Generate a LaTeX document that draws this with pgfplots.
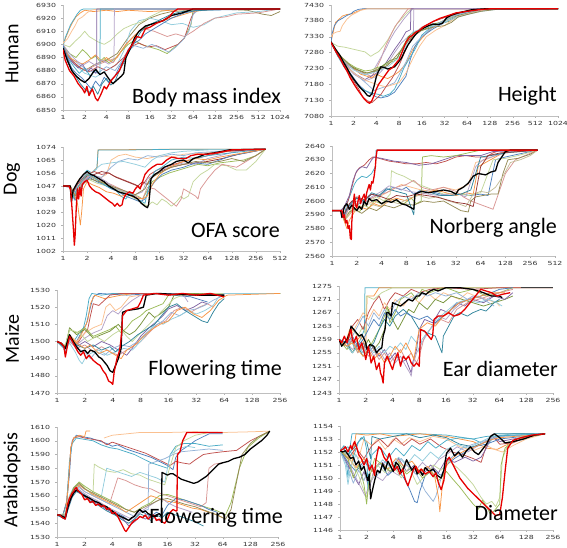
\documentclass[border=0pt]{standalone}
\usepackage{fontspec}
\setmainfont{Carlito}
\newfontfamily\tickfont{DejaVu Sans}
\usepackage{pgfplots}
\pgfplotsset{compat=1.18}
\definecolor{cB}{RGB}{79,129,189}
\definecolor{cR}{RGB}{192,80,77}
\definecolor{cG}{RGB}{155,187,89}
\definecolor{cP}{RGB}{128,100,162}
\definecolor{cA}{RGB}{75,172,198}
\definecolor{cO}{RGB}{247,150,70}
\definecolor{lB}{RGB}{149,179,215}
\definecolor{lR}{RGB}{217,150,148}
\definecolor{lG}{RGB}{195,214,155}
\definecolor{lP}{RGB}{179,162,199}
\definecolor{lA}{RGB}{147,205,221}
\definecolor{lO}{RGB}{250,192,144}
\definecolor{cL}{RGB}{148,138,84}
\definecolor{dG}{RGB}{119,147,60}
\definecolor{dR}{RGB}{149,55,53}
\definecolor{dA}{RGB}{49,133,156}
\definecolor{lL}{RGB}{196,189,151}
\definecolor{red1}{RGB}{230,0,0}
\pgfplotsset{panel/.style={
  scale only axis, anchor=south west,
  axis x line*=bottom, axis y line*=left,
  axis line style={draw=black!25},
  tick style={draw=black!30},
  major tick length=2pt, tick align=outside,
  ticklabel style={font=\tickfont\fontsize{5.6}{6}\selectfont, text=black!80, xscale=1.4},
  /pgf/number format/assume math mode=true,
  yticklabel style={/pgf/number format/1000 sep={}},
  no markers,
  every axis plot/.append style={line width=0.75pt, line join=round},
  clip=true},
  bk/.style={black, line width=1.3pt},
  rd/.style={red1, line width=1.3pt}}
\begin{document}
\begin{tikzpicture}
\useasboundingbox (0,0) rectangle (567pt,548pt);
% ---------------- Panel 1: Human BMI
\begin{axis}[panel, at={(63pt,438pt)}, width=217pt, height=105pt,
  xmin=0, xmax=10, ymin=6850, ymax=6930, ytick={6850,6860,...,6930},
  xtick={0,...,10}, xticklabels={1,2,4,8,16,32,64,128,256,512,1024}]
\addplot[cL] coordinates {(0,6897)(0.5,6885)(1,6880)(1.5,6885)(2,6888)(2.5,6893)(3,6905)(3.5,6915)(4,6920)(4.5,6923)(5,6925)(6,6926)(7,6927)(8.5,6926)(9.2,6923)(9.6,6922)(10,6925)};
\addplot[lA] coordinates {(0,6899)(0.5,6885)(1.0,6878)(1.5,6875)(2.0,6880)(2.5,6885)(2.8,6895)(3.1,6910)(3.5,6918)(4.0,6920)(4.5,6918)(5.0,6915)(5.5,6916)(6.0,6913)(6.5,6915)(7.0,6920)(7.5,6922)(8,6924)(9,6925)(10,6927)};
\addplot[lR] coordinates {(0,6898)(0.5,6886)(1.0,6880)(1.5,6884)(2.0,6887)(2.5,6890)(2.9,6900)(3.3,6907)(3.7,6912)(4.2,6910)(4.8,6906)(5.2,6908)(5.6,6906)(6.0,6910)(6.5,6916)(7,6920)(7.5,6921)(8,6923)(9,6924)(10,6927)};
\addplot[lG] coordinates {(0,6900)(0.3,6898)(0.6,6903)(0.8,6906)(1.0,6910)(1.2,6906)(1.4,6904)(1.6,6902)(1.9,6900)(2.2,6903)(2.5,6908)(2.8,6912)(3.2,6915)(3.6,6917)(4.0,6921)(4.5,6925)(5,6927)(10,6927)};
\addplot[cG] coordinates {(0,6899)(0.3,6893)(0.6,6890)(0.9,6896)(1.1,6893)(1.3,6889)(1.5,6891)(1.7,6887)(1.9,6890)(2.1,6886)(2.4,6889)(2.7,6895)(3.0,6900)(3.3,6903)(3.6,6900)(4.0,6898)(4.4,6896)(4.8,6893)(5.0,6896)(5.3,6900)(5.6,6905)(5.9,6915)(6.0,6927)(10,6927)};
\addplot[cR] coordinates {(0,6898)(0.4,6888)(0.8,6882)(1.2,6879)(1.6,6883)(2.0,6880)(2.4,6884)(2.8,6890)(3.1,6898)(3.5,6901)(3.9,6898)(4.3,6899)(4.7,6896)(5.0,6898)(5.3,6900)(5.6,6905)(5.9,6920)(6.1,6926)(7,6927)(10,6927)};
\addplot[lB] coordinates {(0,6898)(0.4,6889)(0.8,6884)(1.2,6880)(1.6,6878)(2.0,6883)(2.4,6880)(2.7,6887)(3.0,6895)(3.3,6899)(3.7,6897)(4.1,6900)(4.5,6897)(4.9,6894)(5.2,6898)(5.5,6903)(5.8,6910)(6.0,6923)(6.3,6927)(10,6927)};
\addplot[cO] coordinates {(0,6898)(0.3,6890)(0.6,6887)(0.9,6885)(1.2,6888)(1.5,6892)(1.8,6887)(2.0,6890)(2.3,6886)(2.6,6893)(2.9,6900)(3.2,6905)(3.5,6910)(4,6915)(5,6920)(6,6925)(7,6927)(10,6927)};
\addplot[cO] coordinates {(0,6900)(0.15,6906)(0.3,6912)(0.45,6917)(0.6,6921)(0.8,6924)(1,6926)(1.4,6925)(2,6926)(2.5,6925)(3,6926)(4,6925)(5,6926)(6,6927)(10,6927)};
\addplot[cA] coordinates {(0,6898)(0.1,6905)(0.25,6911)(0.35,6915)(0.5,6919)(0.65,6923)(0.8,6926)(0.95,6927)(10,6927)};
\addplot[lO] coordinates {(0,6901)(0.2,6904)(0.4,6910)(0.55,6914)(0.7,6919)(0.9,6921)(1.1,6924)(1.3,6926)(1.6,6927)(10,6927)};
\addplot[cP] coordinates {(0,6899)(0.2,6891)(0.45,6886)(0.7,6882)(0.9,6885)(1.1,6879)(1.3,6882)(1.5,6878)(1.55,6879)(1.56,6927)(10,6927)};
\addplot[cA] coordinates {(0,6897)(0.25,6889)(0.5,6883)(0.75,6878)(1.0,6882)(1.25,6876)(1.5,6880)(1.7,6877)(1.72,6927)(10,6927)};
\addplot[lP] coordinates {(0,6900)(0.3,6893)(0.6,6888)(0.9,6884)(1.2,6887)(1.5,6884)(1.8,6888)(2.1,6885)(2.35,6887)(2.37,6927)(10,6927)};
\addplot[cB] coordinates {(0,6899)(0.2,6890)(0.4,6882)(0.6,6878)(0.9,6874)(1.1,6870)(1.3,6866)(1.5,6872)(1.7,6868)(1.9,6875)(2.1,6871)(2.4,6876)(2.6,6883)(2.8,6888)(3.0,6896)(3.2,6900)(3.5,6903)(3.8,6908)(4.2,6912)(4.6,6916)(5.0,6920)(5.6,6924)(6.2,6926)(10,6927)};
\addplot[dA] coordinates {(0,6898)(0.2,6887)(0.5,6878)(0.8,6870)(1.0,6866)(1.2,6863)(1.4,6868)(1.6,6862)(1.8,6870)(2.0,6874)(2.2,6869)(2.4,6872)(2.6,6880)(2.8,6886)(3.0,6893)(3.3,6902)(3.6,6910)(4.0,6915)(4.5,6919)(5.0,6923)(5.5,6925)(6.5,6926)(8,6927)(10,6927)};
\addplot[bk] coordinates {(0,6897)(0.2,6888)(0.4,6880)(0.6,6876)(0.8,6873)(1.0,6871)(1.2,6874)(1.4,6879)(1.5,6881)(1.7,6877)(1.9,6879)(2.1,6874)(2.3,6870)(2.5,6873)(2.7,6876)(2.8,6878)(2.9,6890)(3.1,6897)(3.3,6905)(3.5,6910)(3.8,6914)(4.2,6916)(4.6,6918)(5.0,6922)(5.5,6924)(6.0,6927)(10,6927)};
\addplot[rd] coordinates {(0,6896)(0.1,6888)(0.3,6880)(0.5,6876)(0.7,6870)(0.9,6866)(1.0,6863)(1.1,6868)(1.2,6861)(1.35,6866)(1.5,6859)(1.6,6857)(1.75,6862)(1.9,6868)(2.0,6866)(2.2,6872)(2.4,6876)(2.6,6880)(2.8,6888)(3.0,6895)(3.2,6900)(3.4,6906)(3.6,6905)(3.8,6912)(4.0,6913)(4.3,6916)(4.6,6918)(4.9,6921)(5.1,6925)(5.3,6927)(10,6927)};
\end{axis}
% ---------------- Panel 2: Human Height
\begin{axis}[panel, at={(331pt,432pt)}, width=227pt, height=111pt,
  xmin=0, xmax=10, ymin=7080, ymax=7430, ytick={7080,7130,...,7430},
  xtick={0,...,10}, xticklabels={1,2,4,8,16,32,64,128,256,512,1024}]
\addplot[cO] coordinates {(0,7314)(0.1,7345)(0.2,7375)(0.35,7385)(0.5,7395)(0.7,7400)(0.9,7402)(1.1,7408)(1.3,7414)(1.5,7418)(10,7418)};
\addplot[cB] coordinates {(0,7312)(0.05,7340)(0.15,7365)(0.3,7380)(0.5,7388)(0.7,7397)(0.9,7403)(1.0,7410)(1.2,7416)(1.4,7418)(10,7418)};
\addplot[lO] coordinates {(0,7330)(0.1,7340)(0.25,7345)(0.4,7347)(0.5,7365)(0.7,7385)(0.9,7398)(1.1,7405)(1.3,7413)(1.6,7418)(10,7418)};
\addplot[lG] coordinates {(0,7312)(0.3,7300)(0.6,7297)(0.9,7292)(1.2,7287)(1.5,7282)(1.75,7268)(1.9,7275)(2.1,7283)(2.3,7300)(2.5,7320)(2.7,7345)(2.9,7370)(3.1,7385)(3.3,7402)(3.5,7415)(3.7,7418)(10,7418)};
\addplot[lR] coordinates {(0,7312)(0.4,7270)(0.8,7240)(1.2,7225)(1.5,7212)(1.8,7205)(2.0,7230)(2.2,7260)(2.4,7300)(2.6,7330)(2.8,7360)(3.0,7380)(3.2,7400)(3.4,7418)(10,7418)};
\addplot[lP] coordinates {(0,7312)(0.4,7265)(0.8,7235)(1.2,7220)(1.5,7210)(1.8,7215)(2.0,7240)(2.2,7265)(2.4,7290)(2.6,7320)(2.8,7345)(3.0,7365)(3.2,7385)(3.5,7410)(3.6,7418)(10,7418)};
\addplot[cP] coordinates {(0,7312)(0.5,7255)(1.0,7215)(1.5,7195)(2.0,7215)(2.4,7245)(2.8,7290)(3.1,7320)(3.3,7345)(3.5,7352)(3.52,7418)(10,7418)};
\addplot[lP] coordinates {(0,7312)(0.5,7250)(1.0,7212)(1.5,7190)(2.0,7205)(2.4,7235)(2.8,7280)(3.1,7310)(3.4,7330)(3.63,7345)(3.65,7418)(10,7418)};
\addplot[cO] coordinates {(0,7312)(0.3,7275)(0.6,7250)(1.0,7230)(1.3,7212)(1.6,7205)(1.8,7200)(2.0,7212)(2.2,7205)(2.5,7198)(2.8,7210)(3.0,7220)(3.3,7245)(3.6,7290)(4.0,7325)(4.4,7355)(4.8,7375)(5.3,7395)(5.8,7408)(6.5,7416)(7,7418)(10,7418)};
\addplot[cG] coordinates {(0,7312)(0.4,7270)(0.8,7245)(1.1,7232)(1.5,7222)(1.8,7225)(2.0,7232)(2.3,7238)(2.6,7248)(2.9,7258)(3.1,7290)(3.3,7315)(3.5,7335)(3.8,7348)(4.1,7352)(4.5,7368)(5.0,7380)(5.5,7395)(6,7403)(6.6,7412)(7.2,7418)(10,7418)};
\addplot[dG] coordinates {(0,7312)(0.4,7268)(0.8,7240)(1.2,7225)(1.6,7215)(2.0,7225)(2.3,7240)(2.6,7255)(2.9,7262)(3.2,7300)(3.4,7330)(3.7,7345)(4.0,7350)(4.3,7360)(4.6,7372)(5.0,7375)(5.3,7380)(5.5,7395)(6.0,7405)(6.5,7413)(7.0,7418)(10,7418)};
\addplot[cB] coordinates {(0,7312)(0.3,7270)(0.6,7235)(0.9,7210)(1.2,7180)(1.5,7160)(1.8,7148)(2.0,7140)(2.2,7137)(2.5,7142)(2.8,7155)(3.0,7175)(3.3,7205)(3.5,7260)(3.7,7300)(4.0,7330)(4.5,7355)(5.0,7375)(5.5,7392)(6.0,7402)(6.6,7412)(7.2,7418)(10,7418)};
\addplot[cA] coordinates {(0,7312)(0.3,7268)(0.6,7232)(0.9,7205)(1.2,7175)(1.5,7160)(1.8,7152)(2.1,7148)(2.3,7142)(2.6,7150)(2.8,7165)(3.0,7195)(3.2,7230)(3.4,7255)(3.7,7290)(4.0,7335)(4.4,7360)(4.9,7378)(5.4,7395)(6,7408)(6.6,7416)(10,7418)};
\addplot[lB] coordinates {(0,7312)(0.4,7262)(0.8,7230)(1.2,7205)(1.6,7180)(1.9,7160)(2.2,7168)(2.5,7175)(2.8,7185)(3.0,7210)(3.3,7250)(3.6,7300)(4.0,7330)(4.5,7362)(5.0,7382)(5.5,7398)(6.2,7410)(7,7418)(10,7418)};
\addplot[lO] coordinates {(0,7312)(0.4,7260)(0.8,7228)(1.2,7205)(1.6,7190)(2.0,7180)(2.4,7172)(2.7,7178)(3.0,7185)(3.3,7215)(3.6,7260)(3.9,7300)(4.2,7330)(4.6,7350)(5.0,7365)(5.5,7392)(6.0,7402)(6.6,7412)(7.2,7418)(10,7418)};
\addplot[cR] coordinates {(0,7312)(0.3,7270)(0.6,7240)(0.9,7200)(1.2,7168)(1.4,7140)(1.6,7128)(1.8,7122)(2.0,7135)(2.2,7148)(2.4,7170)(2.7,7200)(3.0,7240)(3.3,7290)(3.6,7335)(4.0,7360)(4.5,7378)(5.0,7390)(5.5,7402)(6.0,7410)(6.6,7416)(10,7418)};
\addplot[lA] coordinates {(0,7312)(0.5,7260)(1.0,7225)(1.5,7210)(2.0,7220)(2.5,7235)(3.0,7265)(3.3,7300)(3.6,7345)(4.0,7355)(4.5,7365)(5.0,7375)(5.5,7390)(6,7400)(6.6,7410)(7.5,7418)(10,7418)};
\addplot[cL] coordinates {(0,7312)(0.5,7262)(1.0,7230)(1.5,7215)(2.0,7222)(2.5,7240)(3.0,7280)(3.5,7325)(4.0,7350)(4.5,7360)(5.0,7365)(5.3,7375)(5.6,7392)(6.0,7400)(6.6,7410)(7.5,7418)(10,7418)};
\addplot[bk] coordinates {(0,7314)(0.2,7290)(0.4,7270)(0.55,7250)(0.7,7232)(0.85,7212)(1.0,7196)(1.15,7182)(1.3,7168)(1.45,7158)(1.6,7145)(1.7,7142)(1.8,7150)(1.9,7175)(2.0,7205)(2.1,7222)(2.2,7235)(2.35,7233)(2.5,7228)(2.65,7232)(2.8,7235)(2.95,7248)(3.1,7262)(3.25,7285)(3.4,7305)(3.55,7320)(3.7,7335)(3.9,7350)(4.1,7358)(4.3,7365)(4.5,7370)(4.7,7368)(4.9,7372)(5.1,7390)(5.3,7398)(5.6,7405)(5.9,7410)(6.2,7415)(6.8,7418)(10,7418)};
\addplot[rd] coordinates {(0,7312)(0.2,7285)(0.4,7262)(0.55,7240)(0.7,7222)(0.85,7200)(1.0,7182)(1.15,7165)(1.3,7150)(1.45,7135)(1.6,7124)(1.7,7120)(1.8,7128)(1.9,7145)(2.0,7165)(2.1,7180)(2.25,7195)(2.4,7210)(2.55,7225)(2.7,7232)(2.85,7245)(3.0,7258)(3.15,7285)(3.3,7312)(3.45,7328)(3.6,7335)(3.75,7345)(3.9,7350)(4.1,7362)(4.3,7370)(4.5,7378)(4.8,7388)(5.1,7395)(5.5,7405)(6.0,7410)(6.5,7415)(7,7418)(10,7418)};
\end{axis}
% ---------------- Panel 3: Dog OFA
\begin{axis}[panel, at={(63pt,297pt)}, width=217pt, height=104pt,
  xmin=0, xmax=9, ymin=1002, ymax=1074, ytick={1002,1011,...,1074},
  xtick={0,...,9}, xticklabels={1,2,4,8,16,32,64,128,256,512}]
\addplot[cO] coordinates {(0,1047)(0.3,1047)(0.4,1040)(0.5,1045)(0.6,1050)(0.75,1053)(0.9,1056)(1.1,1055)(1.3,1058)(1.42,1060)(1.45,1072)(5,1072.5)(8.4,1072.5)};
\addplot[cA] coordinates {(0,1047)(0.3,1047)(0.45,1042)(0.6,1049)(0.8,1054)(1.0,1058)(1.2,1056)(1.4,1059)(1.46,1072)(3,1072)(5,1072.5)(8.4,1072.5)};
\addplot[lO] coordinates {(0,1047)(0.3,1046)(0.5,1040)(0.7,1050)(1.0,1055)(1.2,1053)(1.5,1052)(1.8,1055)(2.0,1065)(2.3,1068)(2.6,1069)(3.0,1067)(3.5,1066)(4.0,1068)(4.5,1067)(5,1069)(6,1070)(7,1071)(8.4,1072.5)};
\addplot[lB] coordinates {(0,1047)(0.3,1046)(0.45,1038)(0.6,1048)(0.8,1053)(1.0,1056)(1.3,1054)(1.6,1053)(2.0,1060)(2.3,1064)(2.7,1066)(3.1,1065)(3.5,1068)(4,1067)(4.5,1069)(5,1068)(5.5,1070)(6.5,1071)(8.4,1072.5)};
\addplot[lA] coordinates {(0,1047)(0.3,1047)(0.5,1041)(0.7,1047)(1.0,1053)(1.3,1058)(1.6,1062)(2.0,1063)(2.5,1064)(3.0,1062)(3.4,1060)(3.7,1065)(4.0,1068)(4.5,1070)(5,1071)(6,1072)(8.4,1072.5)};
\addplot[cR] coordinates {(0,1047)(0.3,1047)(0.4,1042)(0.6,1048)(0.8,1052)(1.0,1055)(1.3,1057)(1.6,1055)(1.9,1056)(2.1,1054)(2.4,1052)(2.7,1050)(3.0,1048)(3.2,1046)(3.4,1050)(3.6,1055)(3.9,1058)(4.2,1060)(4.6,1062)(5.0,1064)(5.5,1066)(6,1068)(6.8,1071)(8.4,1072.5)};
\addplot[dR] coordinates {(0,1047)(0.3,1047)(0.45,1040)(0.7,1048)(1.0,1054)(1.3,1055)(1.6,1057)(1.9,1056)(2.2,1053)(2.5,1051)(2.8,1049)(3.1,1047)(3.3,1050)(3.5,1048)(3.7,1053)(4.0,1057)(4.5,1060)(5,1062)(5.5,1063)(6,1064)(6.6,1066)(7.3,1069)(8.4,1072.5)};
\addplot[cG] coordinates {(0,1047)(0.3,1047)(0.45,1039)(0.65,1046)(0.85,1052)(1.0,1055)(1.3,1052)(1.6,1050)(1.9,1047)(2.2,1045)(2.5,1043)(2.8,1041)(3.1,1040)(3.3,1038)(3.5,1044)(3.7,1050)(4.0,1053)(4.4,1056)(4.8,1058)(5.2,1060)(5.6,1062)(6.0,1061)(6.5,1063)(7.0,1064)(7.5,1065)(8.0,1068)(8.4,1072.5)};
\addplot[lG] coordinates {(0,1047)(0.3,1047)(0.45,1040)(0.7,1047)(1.0,1052)(1.4,1049)(1.8,1047)(2.2,1045)(2.6,1042)(3.0,1038)(3.3,1035)(3.5,1033)(3.7,1036)(3.9,1034)(4.1,1038)(4.3,1036)(4.5,1033)(4.7,1036)(4.9,1040)(5.0,1038)(5.2,1040)(5.4,1050)(5.7,1055)(6.0,1058)(6.3,1062)(6.8,1061)(7.2,1058)(7.6,1058)(8.0,1064)(8.4,1072.5)};
\addplot[lR] coordinates {(0,1047)(0.3,1047)(0.5,1041)(0.8,1050)(1.1,1054)(1.5,1051)(2.0,1048)(2.5,1044)(3.0,1040)(3.3,1038)(3.5,1046)(3.8,1045)(4.1,1041)(4.4,1037)(4.7,1033)(4.9,1038)(5.0,1045)(5.3,1042)(5.5,1040)(5.6,1038)(5.7,1045)(6.0,1052)(6.3,1058)(6.6,1062)(7.2,1060)(7.6,1064)(8.0,1068)(8.4,1072.5)};
\addplot[lP] coordinates {(0,1047)(0.3,1046)(0.5,1038)(0.7,1046)(0.9,1051)(1.2,1055)(1.5,1053)(1.8,1050)(2.1,1046)(2.4,1044)(2.7,1042)(3.0,1041)(3.3,1043)(3.5,1052)(3.8,1055)(4.2,1059)(4.6,1061)(5,1063)(5.5,1062)(6,1066)(6.5,1068)(7.2,1071)(8.4,1072.5)};
\addplot[cB] coordinates {(0,1047)(0.3,1047)(0.5,1037)(0.7,1044)(0.9,1050)(1.1,1053)(1.4,1050)(1.7,1048)(2.0,1045)(2.3,1043)(2.6,1040)(2.9,1038)(3.2,1036)(3.4,1038)(3.6,1045)(3.8,1050)(4.1,1055)(4.5,1058)(5,1060)(5.5,1063)(6,1062)(6.5,1065)(7,1068)(8.4,1072.5)};
\addplot[cA] coordinates {(0,1047)(0.3,1047)(0.45,1039)(0.6,1046)(0.8,1051)(1.0,1055)(1.3,1053)(1.6,1049)(1.9,1046)(2.2,1044)(2.4,1040)(2.6,1038)(2.8,1042)(3.0,1039)(3.2,1037)(3.4,1035)(3.6,1050)(3.8,1057)(4.1,1060)(4.5,1065)(5,1067)(5.5,1066)(6,1068)(7,1070)(8.4,1072.5)};
\addplot[cO] coordinates {(0,1047)(0.3,1047)(0.45,1042)(0.6,1035)(0.72,1020)(0.78,1030)(0.85,1045)(1.0,1050)(1.2,1048)(1.5,1046)(1.8,1043)(2.1,1042)(2.4,1040)(2.7,1041)(3.0,1039)(3.3,1038)(3.5,1040)(3.7,1048)(4.0,1055)(4.4,1060)(5,1064)(5.5,1066)(6,1065)(6.5,1067)(7.5,1070)(8.4,1072.5)};
\addplot[cL] coordinates {(0,1047)(0.3,1047)(0.5,1040)(0.8,1048)(1.1,1052)(1.5,1050)(2.0,1047)(2.5,1044)(3.0,1041)(3.4,1045)(3.6,1052)(4.0,1056)(4.5,1060)(5,1062)(5.5,1064)(6,1063)(6.5,1064)(7,1066)(7.5,1064)(8.0,1068)(8.4,1072.5)};
\addplot[bk] coordinates {(0,1047)(0.3,1047)(0.35,1036)(0.42,1044)(0.55,1048)(0.7,1052)(0.85,1055)(1.0,1057)(1.15,1055)(1.3,1054)(1.5,1052)(1.7,1050)(1.9,1047)(2.1,1045)(2.3,1043)(2.5,1042)(2.7,1041)(2.9,1040)(3.1,1038)(3.25,1035)(3.4,1033)(3.5,1032)(3.55,1034)(3.6,1042)(3.65,1052)(3.8,1055)(4.0,1057)(4.2,1060)(4.5,1062)(4.7,1064)(5.0,1065)(5.2,1063)(5.4,1066)(5.6,1067)(5.9,1069)(6.3,1070)(6.9,1072)(8.4,1072.5)};
\addplot[rd] coordinates {(0,1047)(0.25,1047)(0.32,1044)(0.38,1030)(0.44,1015)(0.47,1006)(0.5,1012)(0.55,1032)(0.6,1045)(0.65,1038)(0.7,1046)(0.75,1040)(0.8,1048)(0.9,1050)(1.0,1051)(1.1,1047)(1.2,1045)(1.35,1043)(1.5,1042)(1.65,1040)(1.8,1038)(1.95,1036)(2.05,1035)(2.15,1033)(2.25,1035)(2.35,1033)(2.45,1034)(2.5,1038)(2.6,1041)(2.75,1043)(2.9,1042)(3.0,1045)(3.1,1047)(3.2,1045)(3.3,1050)(3.4,1055)(3.55,1058)(3.7,1060)(3.9,1062)(4.1,1062)(4.3,1065)(4.5,1067)(4.8,1066)(5.1,1066)(5.3,1068)(5.6,1069)(6.0,1069)(6.4,1070)(7.0,1072)(8.4,1072.5)};
\end{axis}
% ---------------- Panel 4: Dog Norberg
\begin{axis}[panel, at={(332pt,292pt)}, width=223pt, height=110pt,
  xmin=0, xmax=9, ymin=2560, ymax=2640, ytick={2560,2570,...,2640},
  xtick={0,...,9}, xticklabels={1,2,4,8,16,32,64,128,256,512}]
\addplot[cA] coordinates {(0,2593)(0.35,2593)(0.5,2590)(0.6,2598)(0.75,2605)(0.9,2612)(1.0,2615)(1.2,2618)(1.4,2617)(1.6,2620)(1.75,2625)(1.78,2637)(8.3,2637)};
\addplot[cR] coordinates {(0,2593)(0.35,2593)(0.5,2595)(0.65,2600)(0.8,2610)(0.95,2620)(1.1,2624)(1.3,2626)(1.5,2630)(1.65,2632)(1.9,2631)(2.3,2629)(2.7,2628)(3.0,2627)(3.4,2627)(3.8,2628)(4.2,2627)(4.6,2629)(5.0,2632)(5.4,2633)(5.8,2632)(6.2,2632)(6.5,2635)(6.8,2637)(8.3,2637)};
\addplot[cP] coordinates {(0,2593)(0.35,2593)(0.5,2596)(0.7,2604)(0.85,2615)(1.0,2622)(1.2,2625)(1.4,2624)(1.6,2630)(1.7,2632)(2.0,2631)(2.5,2629)(3.0,2628)(3.5,2626)(4.0,2627)(4.5,2630)(5.0,2633)(5.5,2633)(6,2633)(6.5,2636)(8.3,2637)};
\addplot[cB] coordinates {(0,2593)(0.35,2593)(0.5,2588)(0.65,2594)(0.8,2600)(1.0,2597)(1.3,2600)(1.6,2605)(1.9,2603)(2.2,2608)(2.5,2610)(2.8,2608)(3.0,2610)(3.3,2605)(3.6,2608)(4.0,2607)(4.4,2605)(4.8,2604)(5.2,2605)(5.6,2604)(6.0,2605)(6.3,2604)(6.6,2630)(7.0,2632)(7.5,2634)(8.3,2637)};
\addplot[cG] coordinates {(0,2593)(0.35,2593)(0.5,2586)(0.7,2590)(0.9,2595)(1.1,2592)(1.3,2597)(1.5,2595)(1.7,2600)(2.0,2598)(2.3,2602)(2.6,2600)(2.9,2598)(3.2,2602)(3.4,2598)(3.6,2600)(3.65,2632)(4.0,2633)(4.5,2632)(5.0,2633)(5.5,2635)(6,2637)(8.3,2637)};
\addplot[lG] coordinates {(0,2593)(0.35,2593)(0.5,2588)(0.7,2592)(0.9,2598)(1.2,2596)(1.5,2600)(1.8,2603)(2.1,2600)(2.35,2605)(2.4,2622)(2.6,2620)(2.9,2618)(3.2,2615)(3.5,2612)(3.8,2610)(4.1,2608)(4.5,2605)(5.0,2606)(5.5,2604)(6,2606)(6.5,2630)(7,2631)(7.5,2633)(8.3,2637)};
\addplot[lO] coordinates {(0,2593)(0.35,2593)(0.5,2586)(0.7,2590)(0.9,2597)(1.1,2594)(1.4,2600)(1.7,2598)(2.0,2604)(2.4,2608)(2.8,2612)(3.2,2610)(3.6,2608)(4.0,2607)(4.5,2610)(5.0,2608)(5.5,2612)(5.8,2628)(6.2,2630)(6.6,2633)(7,2635)(8.3,2637)};
\addplot[cO] coordinates {(0,2593)(0.35,2593)(0.5,2585)(0.6,2580)(0.7,2586)(0.9,2592)(1.1,2596)(1.4,2594)(1.7,2598)(2.0,2596)(2.3,2600)(2.6,2602)(3.0,2600)(3.4,2604)(3.8,2606)(4.2,2608)(4.6,2606)(5.0,2604)(5.4,2606)(5.7,2605)(5.9,2625)(6.2,2628)(6.6,2632)(7.0,2636)(8.3,2637)};
\addplot[lR] coordinates {(0,2593)(0.35,2593)(0.5,2588)(0.7,2595)(1.0,2598)(1.4,2600)(1.8,2604)(2.2,2606)(2.6,2610)(3.0,2612)(3.3,2615)(3.6,2610)(4.0,2608)(4.5,2610)(5.0,2607)(5.3,2603)(5.6,2600)(5.9,2598)(6.2,2596)(6.5,2594)(7.0,2620)(7.4,2630)(8.3,2637)};
\addplot[lP] coordinates {(0,2593)(0.35,2593)(0.5,2589)(0.7,2596)(1.0,2600)(1.3,2598)(1.6,2603)(2.0,2607)(2.3,2611)(2.7,2609)(3.1,2607)(3.5,2606)(3.9,2605)(4.3,2604)(4.7,2605)(5.1,2605)(5.4,2603)(5.8,2625)(6.1,2630)(6.6,2633)(7.2,2636)(8.3,2637)};
\addplot[cL] coordinates {(0,2593)(0.35,2593)(0.5,2586)(0.7,2592)(0.9,2594)(1.2,2591)(1.5,2595)(1.8,2593)(2.1,2597)(2.5,2595)(2.9,2598)(3.3,2597)(3.7,2600)(4.1,2599)(4.5,2600)(4.9,2596)(5.2,2593)(5.5,2592)(5.6,2600)(5.8,2603)(6.1,2604)(6.4,2605)(6.7,2605)(6.9,2620)(7.1,2630)(7.5,2631)(8.0,2634)(8.3,2637)};
\addplot[lL] coordinates {(0,2593)(0.35,2593)(0.5,2587)(0.8,2592)(1.1,2595)(1.5,2598)(1.9,2596)(2.3,2600)(2.7,2598)(3.1,2602)(3.5,2604)(3.9,2602)(4.3,2603)(4.7,2600)(5.1,2598)(5.4,2596)(5.7,2605)(6.0,2607)(6.3,2606)(6.6,2610)(6.9,2618)(7.2,2628)(7.6,2630)(8.0,2633)(8.3,2637)};
\addplot[dA] coordinates {(0,2593)(0.35,2593)(0.5,2590)(0.7,2597)(1.0,2602)(1.3,2600)(1.6,2606)(1.9,2604)(2.2,2609)(2.6,2607)(3.0,2605)(3.3,2590)(3.35,2605)(3.6,2607)(4.0,2606)(4.4,2604)(4.8,2604)(5.2,2605)(5.6,2608)(6.0,2632)(6.4,2633)(7,2635)(8.3,2637)};
\addplot[dR] coordinates {(0,2593)(0.35,2593)(0.5,2591)(0.7,2598)(1.0,2603)(1.3,2601)(1.6,2605)(2.0,2603)(2.3,2601)(2.6,2604)(3.0,2603)(3.4,2605)(3.8,2604)(4.2,2603)(4.6,2601)(5.0,2599)(5.4,2598)(5.7,2596)(6.0,2625)(6.3,2633)(6.8,2635)(8.3,2637)};
\addplot[bk] coordinates {(0,2593)(0.35,2593)(0.4,2588)(0.45,2592)(0.5,2596)(0.6,2598)(0.7,2594)(0.8,2597)(0.9,2595)(1.0,2593)(1.1,2596)(1.2,2594)(1.3,2600)(1.4,2597)(1.5,2602)(1.6,2600)(1.8,2601)(2.0,2598)(2.2,2600)(2.4,2599)(2.6,2601)(2.8,2598)(3.0,2597)(3.2,2595)(3.3,2594)(3.35,2605)(3.6,2607)(3.9,2606)(4.2,2607)(4.5,2608)(4.8,2607)(5.0,2605)(5.1,2608)(5.3,2610)(5.5,2613)(5.7,2618)(5.9,2620)(6.2,2619)(6.4,2621)(6.6,2622)(6.7,2628)(6.85,2632)(7.0,2636)(7.2,2637)(8.3,2637)};
\addplot[rd] coordinates {(0,2593)(0.4,2593)(0.45,2588)(0.5,2590)(0.55,2584)(0.6,2586)(0.65,2580)(0.7,2582)(0.74,2573)(0.78,2572)(0.8,2585)(0.83,2592)(0.87,2600)(0.9,2605)(0.95,2597)(1.0,2595)(1.05,2600)(1.1,2604)(1.15,2598)(1.2,2601)(1.3,2605)(1.35,2600)(1.4,2606)(1.45,2609)(1.5,2612)(1.55,2608)(1.6,2614)(1.65,2613)(1.7,2618)(1.75,2625)(1.78,2632)(1.82,2637)(8.3,2637)};
\end{axis}
% ---------------- Panel 5: Maize FT
\begin{axis}[panel, at={(57pt,155pt)}, width=223pt, height=103pt,
  xmin=0, xmax=8, ymin=1470, ymax=1530, ytick={1470,1480,...,1530},
  xtick={0,...,8}, xticklabels={1,2,4,8,16,32,64,128,256}]
\addplot[cA] coordinates {(0,1500)(0.2,1498)(0.3,1493)(0.45,1502)(0.6,1500)(0.8,1505)(0.95,1508)(1.05,1515)(1.15,1525)(1.25,1528)(1.6,1527)(2.0,1528)(3.0,1528)(4,1528)(5,1527)(6,1528)(8,1528)};
\addplot[cB] coordinates {(0,1500)(0.3,1495)(0.45,1503)(0.7,1500)(0.9,1506)(1.05,1510)(1.2,1520)(1.3,1526)(1.5,1528)(2.5,1527)(3.5,1528)(4.8,1526)(5.2,1524)(5.4,1523)};
\addplot[cO] coordinates {(0,1500)(0.3,1496)(0.45,1504)(0.7,1499)(0.9,1505)(1.1,1512)(1.2,1522)(1.35,1527)(1.7,1525)(2.0,1526)(2.3,1527)(2.8,1528)(4,1528)(6,1528)(8,1528)};
\addplot[cR] coordinates {(0,1500)(0.3,1496)(0.45,1503)(0.7,1498)(0.9,1503)(1.1,1507)(1.2,1515)(1.3,1522)(1.5,1521)(1.7,1524)(1.9,1527)(2.3,1528)(4,1528)(6,1527)};
\addplot[lO] coordinates {(0,1500)(0.3,1497)(0.45,1504)(0.7,1500)(1.0,1505)(1.3,1508)(1.6,1510)(1.75,1520)(1.9,1522)(2.1,1518)(2.3,1520)(2.6,1526)(3.0,1527)(3.5,1528)(5,1528)(8,1528)};
\addplot[lP] coordinates {(0,1500)(0.3,1496)(0.45,1502)(0.7,1498)(1.0,1502)(1.3,1505)(1.6,1507)(1.8,1515)(2.0,1518)(2.2,1516)(2.4,1520)(2.7,1524)(3.0,1527)(3.5,1528)(4.5,1528)(4.7,1523)};
\addplot[cG] coordinates {(0,1500)(0.3,1497)(0.45,1507)(0.7,1505)(1.0,1508)(1.3,1503)(1.6,1505)(1.9,1507)(2.1,1509)(2.3,1505)(2.5,1508)(2.7,1512)(3.0,1515)(3.2,1518)(3.5,1520)(3.8,1522)(4.0,1527)(4.5,1528)(6,1528)(8,1528)};
\addplot[dG] coordinates {(0,1500)(0.3,1497)(0.45,1508)(0.7,1504)(1.0,1507)(1.3,1502)(1.6,1504)(1.9,1506)(2.2,1510)(2.4,1506)(2.6,1504)(2.8,1506)(3.0,1510)(3.3,1517)(3.5,1514)(3.7,1516)(4.0,1520)(4.2,1527)(5,1528)(8,1528)};
\addplot[lG] coordinates {(0,1500)(0.3,1498)(0.45,1507)(0.8,1505)(1.1,1500)(1.4,1503)(1.7,1500)(2.0,1504)(2.3,1507)(2.5,1503)(2.7,1500)(3.0,1505)(3.3,1510)(3.6,1515)(3.9,1520)(4.2,1525)(4.5,1527)(5.5,1528)(8,1528)};
\addplot[cP] coordinates {(0,1500)(0.3,1496)(0.45,1502)(0.7,1497)(1.0,1500)(1.3,1497)(1.6,1500)(1.9,1498)(2.2,1495)(2.5,1492)(2.7,1496)(3.0,1503)(3.3,1508)(3.6,1512)(3.8,1515)(4.0,1519)(4.3,1521)(4.6,1518)(4.9,1520)(5.2,1523)(5.4,1522)};
\addplot[lR] coordinates {(0,1500)(0.3,1496)(0.45,1500)(0.7,1496)(1.0,1498)(1.3,1494)(1.6,1497)(1.9,1494)(2.2,1492)(2.5,1495)(2.8,1498)(3.0,1500)(3.3,1505)(3.6,1510)(3.9,1512)(4.2,1518)(4.5,1520)(4.8,1517)(5.1,1520)(5.4,1522)(5.6,1520)};
\addplot[lB] coordinates {(0,1500)(0.3,1495)(0.45,1501)(0.7,1496)(1.0,1494)(1.2,1490)(1.4,1494)(1.7,1492)(2.0,1496)(2.3,1498)(2.6,1497)(2.9,1500)(3.2,1505)(3.5,1509)(3.8,1512)(4.1,1517)(4.4,1515)(4.7,1518)(5.0,1519)(5.3,1521)(5.6,1524)(6.0,1527)};
\addplot[lA] coordinates {(0,1500)(0.3,1495)(0.45,1499)(0.65,1494)(0.8,1489)(0.9,1487)(1.0,1490)(1.2,1493)(1.5,1495)(1.8,1492)(2.1,1494)(2.4,1496)(2.7,1495)(3.0,1500)(3.3,1506)(3.6,1512)(3.8,1510)(4.1,1513)(4.4,1515)(4.7,1518)(5.0,1516)(5.3,1518)(5.6,1521)(5.8,1526)(6.0,1528)(8,1528)};
\addplot[dA] coordinates {(0,1500)(0.3,1496)(0.45,1502)(0.7,1498)(1.0,1496)(1.3,1498)(1.6,1495)(1.9,1497)(2.1,1494)(2.3,1497)(2.6,1500)(2.9,1504)(3.2,1507)(3.5,1510)(3.8,1516)(4.0,1520)(4.3,1522)(4.6,1518)(4.9,1515)(5.2,1512)(5.4,1511)(5.6,1517)(5.8,1522)(6.0,1525)};
\addplot[cO] coordinates {(0,1500)(0.3,1497)(0.45,1503)(0.7,1499)(1.0,1496)(1.2,1498)(1.5,1493)(1.8,1495)(2.1,1492)(2.3,1490)(2.5,1495)(2.8,1498)(3.1,1503)(3.4,1507)(3.7,1510)(4.0,1512)(4.3,1518)(4.6,1520)(4.9,1516)(5.2,1514)(5.5,1518)(5.8,1524)(6.1,1527)(8,1528)};
\addplot[bk] coordinates {(0,1500)(0.15,1499)(0.3,1496)(0.45,1504)(0.55,1501)(0.7,1497)(0.85,1494)(1.0,1495)(1.1,1493)(1.2,1495)(1.35,1494)(1.5,1491)(1.6,1490)(1.7,1488)(1.8,1486)(1.9,1483)(2.0,1482)(2.1,1486)(2.2,1490)(2.3,1496)(2.35,1517)(2.5,1518)(2.7,1518.5)(2.9,1519)(3.1,1520)(3.2,1527)(3.6,1528)(4.2,1527.5)(5.0,1527)(6.0,1527)};
\addplot[rd] coordinates {(0,1500)(0.15,1499)(0.25,1497)(0.3,1491)(0.38,1498)(0.45,1503)(0.55,1500)(0.65,1497)(0.75,1494)(0.85,1492)(0.95,1494)(1.05,1490)(1.15,1492)(1.3,1489)(1.45,1487)(1.55,1486)(1.65,1483)(1.75,1481)(1.85,1477)(1.95,1476)(2.0,1475)(2.05,1482)(2.15,1490)(2.25,1495)(2.32,1505)(2.35,1515)(2.5,1518)(2.7,1519)(2.9,1520)(3.0,1523)(3.1,1527)(3.5,1528)(4.0,1527)(4.5,1528)(5.0,1527)(5.5,1528)(6.0,1526)};
\end{axis}
% ---------------- Panel 6: Maize Ear diameter
\begin{axis}[panel, at={(339pt,155pt)}, width=214pt, height=107pt,
  xmin=0, xmax=8, ymin=1243, ymax=1275, ytick={1243,1247,...,1275},
  xtick={0,...,8}, xticklabels={1,2,4,8,16,32,64,128,256}]
\addplot[cA] coordinates {(0,1259)(0.2,1258)(0.4,1260)(0.6,1256)(0.8,1259)(0.95,1262)(0.97,1274.5)(8,1274.5)};
\addplot[cO] coordinates {(0,1259)(0.2,1257)(0.4,1262)(0.6,1258)(0.8,1260)(1.0,1257)(1.05,1272)(1.3,1272)(1.5,1274.5)(8,1274.5)};
\addplot[lG] coordinates {(0,1259)(0.3,1258)(0.5,1262)(0.7,1260)(0.9,1263)(1.0,1260)(1.02,1272)(1.3,1271)(1.6,1273)(2.0,1274.5)(6,1274.5)};
\addplot[cR] coordinates {(0,1259)(0.3,1258)(0.5,1263)(0.7,1265)(0.9,1262)(1.1,1267)(1.3,1270)(1.5,1272)(1.7,1268)(1.9,1271)(2.1,1273)(2.4,1272)(2.7,1274)(3.0,1273)(3.4,1274)(4,1274.5)(5,1274)(6,1274.5)(8,1274.5)};
\addplot[lO] coordinates {(0,1259)(0.3,1257)(0.5,1261)(0.7,1264)(0.9,1267)(1.1,1265)(1.3,1268)(1.5,1266)(1.7,1270)(1.9,1268)(2.1,1271)(2.4,1269)(2.7,1272)(3.0,1270)(3.3,1273)(3.6,1271)(3.9,1273)(4.2,1272)(4.5,1271)(4.8,1273)(5.1,1272)(5.5,1271)(5.9,1270)(6.0,1269)};
\addplot[cG] coordinates {(0,1259)(0.3,1256)(0.5,1259)(0.7,1255)(0.9,1258)(1.1,1256)(1.3,1259)(1.5,1262)(1.7,1266)(1.8,1269)(1.9,1264)(2.1,1267)(2.3,1271)(2.5,1272)(2.7,1273)(2.9,1271)(3.1,1274)(3.4,1273)(3.7,1274)(4.0,1274.5)(4.5,1273)(5,1274)(5.5,1272)(6,1273)(6.5,1274.5)};
\addplot[dG] coordinates {(0,1259)(0.3,1257)(0.5,1255)(0.7,1258)(0.9,1256)(1.1,1259)(1.3,1256)(1.5,1258)(1.7,1262)(1.85,1268)(2.0,1265)(2.2,1262)(2.4,1265)(2.6,1268)(2.8,1267)(3.0,1270)(3.3,1268)(3.6,1271)(3.9,1270)(4.2,1272)(4.6,1271)(5.0,1270)(5.4,1269)(5.8,1270)(6.2,1271)(6.5,1272)};
\addplot[cP] coordinates {(0,1259)(0.3,1257)(0.5,1259)(0.7,1256)(0.9,1258)(1.1,1255)(1.3,1257)(1.5,1254)(1.7,1256)(1.9,1253)(2.1,1255)(2.3,1252)(2.5,1253)(2.7,1249)(2.75,1252)(2.9,1256)(3.0,1262)(3.2,1265)(3.5,1264)(3.8,1268)(4.1,1267)(4.4,1270)(4.7,1269)(5.0,1271)(5.4,1270)(5.8,1272)(6.2,1271)(6.5,1273)};
\addplot[lP] coordinates {(0,1259)(0.3,1258)(0.5,1256)(0.7,1258)(0.9,1255)(1.1,1257)(1.3,1254)(1.5,1256)(1.7,1253)(1.9,1255)(2.1,1252)(2.3,1254)(2.5,1251)(2.65,1249)(2.7,1248)(2.75,1251)(2.9,1255)(3.1,1258)(3.4,1262)(3.7,1266)(4.0,1265)(4.3,1268)(4.6,1270)(5.0,1272)(5.5,1271)(6.0,1273)};
\addplot[lR] coordinates {(0,1259)(0.3,1257)(0.5,1259)(0.7,1255)(0.9,1257)(1.1,1254)(1.3,1256)(1.5,1253)(1.7,1255)(1.9,1252)(2.1,1254)(2.3,1256)(2.5,1253)(2.7,1255)(2.9,1252)(3.0,1254)(3.2,1260)(3.5,1263)(3.8,1265)(4.1,1264)(4.4,1268)(4.8,1270)(5.2,1271)(5.6,1272)(6,1273)(6.5,1274)};
\addplot[dA] coordinates {(0,1259)(0.3,1258)(0.5,1255)(0.7,1257)(0.9,1254)(1.1,1256)(1.3,1258)(1.5,1262)(1.7,1265)(1.9,1263)(2.1,1266)(2.4,1268)(2.7,1266)(3.0,1262)(3.3,1261)(3.6,1260)(3.8,1256)(3.85,1255)(3.9,1260)(4.1,1263)(4.3,1266)(4.5,1267)(4.8,1266)(5.0,1267)(5.3,1268)(5.5,1267.5)(5.8,1270)(6.0,1271)};
\addplot[lA] coordinates {(0,1259)(0.3,1257)(0.5,1255)(0.7,1257)(0.9,1255)(1.1,1257)(1.3,1255)(1.5,1257)(1.7,1255)(1.9,1257)(2.1,1256)(2.3,1258)(2.5,1256)(2.7,1260)(2.9,1258)(3.0,1255)(3.1,1259)(3.3,1261)(3.5,1263)(3.8,1266)(4.1,1268)(4.4,1270)(4.8,1271)(5.2,1270)(5.6,1271)(5.9,1270)(6.1,1269)};
\addplot[cB] coordinates {(0,1259)(0.3,1258)(0.5,1260)(0.7,1257)(0.9,1259)(1.1,1262)(1.3,1265)(1.5,1263)(1.7,1267)(1.9,1265)(2.1,1268)(2.3,1266)(2.5,1267)(2.7,1266)(3.0,1265)(3.3,1266)(3.6,1264)(3.9,1266)(4.2,1268)(4.5,1270)(4.9,1271)(5.3,1272)(5.7,1273)(6,1274)(6.5,1274.5)};
\addplot[lB] coordinates {(0,1259)(0.3,1257)(0.5,1260)(0.7,1263)(0.9,1266)(1.1,1263)(1.3,1267)(1.5,1265)(1.7,1268)(1.9,1266)(2.1,1270)(2.4,1272)(2.7,1271)(3.0,1273)(3.3,1272)(3.6,1273)(4.0,1272)(4.4,1273)(4.8,1271)(5.2,1272)(5.6,1270)(5.8,1269)};
\addplot[cO] coordinates {(0,1259)(0.3,1257)(0.5,1258)(0.7,1256)(0.9,1254)(1.1,1256)(1.3,1253)(1.5,1255)(1.7,1252)(1.9,1254)(2.1,1257)(2.3,1255)(2.5,1258)(2.7,1255)(2.8,1253)(2.9,1258)(3.0,1262)(3.3,1264)(3.6,1263)(3.9,1266)(4.2,1268)(4.5,1270)(4.9,1271)(5.3,1272)(5.7,1273)(6.2,1273)};
\addplot[black!75, line width=0.9pt] coordinates {(6.8,1274.5)(8,1274.5)};
\addplot[bk] coordinates {(0,1259)(0.1,1257)(0.2,1258)(0.3,1259)(0.4,1261)(0.45,1263)(0.55,1262)(0.65,1261)(0.75,1260)(0.85,1260.5)(0.95,1259)(1.0,1258)(1.05,1256)(1.15,1257.5)(1.3,1257)(1.4,1255)(1.5,1256)(1.6,1256.5)(1.65,1260)(1.72,1262)(1.78,1267)(1.85,1267)(1.95,1266)(2.0,1270)(2.15,1269.5)(2.3,1269)(2.45,1270)(2.6,1271)(2.75,1270.5)(2.9,1272)(3.0,1272)(3.1,1273)(3.25,1272.5)(3.4,1273.5)(3.55,1274)(3.7,1273.5)(3.85,1274)(4.0,1274.5)(4.5,1274.5)(5.0,1274)(5.4,1273)(5.7,1272)(6.0,1272)(6.1,1271.5)};
\addplot[rd] coordinates {(0,1259)(0.1,1258)(0.2,1260)(0.3,1258)(0.4,1261)(0.45,1262)(0.5,1259)(0.55,1258)(0.65,1260)(0.75,1256)(0.85,1258)(0.95,1255)(1.0,1253)(1.1,1257)(1.2,1252)(1.3,1254)(1.4,1250)(1.5,1252)(1.55,1249)(1.6,1248)(1.65,1246)(1.7,1252)(1.8,1254)(1.9,1252)(2.0,1250)(2.1,1253)(2.2,1255)(2.3,1251)(2.4,1254)(2.5,1253)(2.6,1254)(2.7,1252)(2.8,1251)(2.9,1252)(3.0,1251)(3.05,1262)(3.2,1261.5)(3.35,1260)(3.45,1259)(3.5,1260)(3.55,1265)(3.7,1266)(3.9,1266)(4.1,1267)(4.3,1266)(4.5,1266.5)(4.7,1268)(4.9,1270)(5.0,1271)(5.1,1272)(5.3,1274)(5.5,1273.5)(5.7,1273)(5.9,1272)(6.1,1272.5)(6.4,1273)};
\end{axis}
% ---------------- Panel 7: Arabidopsis FT
\begin{axis}[panel, at={(57pt,11pt)}, width=221pt, height=110pt,
  xmin=0, xmax=8, ymin=1530, ymax=1610, ytick={1530,1540,...,1610},
  xtick={0,...,8}, xticklabels={1,2,4,8,16,32,64,128,256}]
\addplot[cB] coordinates {(0,1546)(0.2,1545)(0.35,1555)(0.45,1575)(0.5,1590)(0.55,1600)(0.7,1604)(0.9,1603)(1.2,1602)(1.5,1600)(1.8,1598)(2.0,1596)(2.2,1597)(2.5,1594)(2.8,1592)(3.1,1590)(3.4,1588)(3.7,1585)(4.0,1582)(4.2,1579)(4.3,1588)(4.5,1593)(4.8,1597)(5.0,1600)(5.5,1605)(6.0,1605)};
\addplot[cR] coordinates {(0,1546)(0.2,1545)(0.35,1556)(0.45,1580)(0.5,1595)(0.6,1602)(0.8,1603)(1.0,1602)(1.3,1601)(1.6,1600)(1.8,1597)(2.0,1599)(2.3,1597)(2.6,1595)(2.9,1593)(3.2,1591)(3.5,1588)(3.8,1585)(4.1,1582)(4.3,1585)(4.5,1584)(4.8,1583)(5.0,1586)(5.3,1590)(5.6,1591)(6.0,1592)(6.5,1593)(7,1600)(7.7,1607)};
\addplot[cA] coordinates {(0,1546)(0.2,1545)(0.35,1555)(0.45,1585)(0.55,1598)(0.7,1602)(1.0,1601)(1.3,1600)(1.6,1597)(1.9,1595)(2.2,1594)(2.5,1592)(2.8,1590)(3.1,1587)(3.4,1584)(3.7,1582)(4.0,1580)(4.1,1590)(4.3,1596)(4.6,1598)(5.0,1598)(5.5,1596)(6,1597)};
\addplot[cO] coordinates {(0,1546)(0.3,1545)(0.4,1565)(0.5,1595)(0.6,1602)(0.8,1604)(1.0,1603)(1.05,1607)(1.2,1607)};
\addplot[lO] coordinates {(1.7,1602)(2.0,1604)(2.5,1605)(3.0,1606)(4,1606)(5,1606.5)(6,1606)(7,1606.5)(7.7,1607)};
\addplot[lG] coordinates {(0,1546)(0.3,1547)(0.45,1560)(0.6,1565)(0.8,1570)(1.0,1566)(1.3,1560)(1.35,1583)(1.5,1581)(1.8,1578)(2.1,1577)(2.4,1579)(2.7,1576)(3.0,1575)(3.3,1572)(3.6,1570)(3.9,1568)(4.0,1575)(4.3,1595)(4.6,1600)(5.0,1604)(5.5,1606)(6,1606)};
\addplot[lR] coordinates {(0,1546)(0.3,1546)(0.45,1558)(0.6,1563)(0.8,1567)(1.0,1563)(1.3,1560)(1.6,1557)(1.9,1554)(2.2,1573)(2.5,1571)(2.8,1568)(3.1,1566)(3.4,1565)(3.7,1562)(4.0,1560)(4.3,1558)(4.6,1556)(4.9,1554)(5.2,1552)(5.4,1555)(5.5,1580)(5.7,1583)(6.0,1584)};
\addplot[lA] coordinates {(0,1546)(0.3,1546)(0.45,1560)(0.6,1566)(0.8,1568)(1.0,1565)(1.3,1561)(1.6,1559)(1.8,1580)(2.1,1578)(2.4,1576)(2.7,1574)(3.0,1577)(3.3,1575)(3.6,1573)(3.9,1570)(4.1,1590)(4.4,1594)(4.7,1596)(5.0,1595)};
\addplot[lB] coordinates {(0,1546)(0.3,1545)(0.45,1557)(0.6,1563)(0.8,1566)(1.0,1563)(1.3,1560)(1.6,1557)(1.9,1554)(2.2,1551)(2.5,1548)(2.8,1545)(3.0,1548)(3.3,1550)(3.32,1583)(3.6,1585)(3.9,1587)(4.2,1590)(4.5,1592)(5,1593)(5.5,1594)(6,1593)};
\addplot[cG] coordinates {(0,1546)(0.3,1545)(0.45,1558)(0.6,1566)(0.8,1570)(1.0,1567)(1.3,1563)(1.6,1560)(1.9,1557)(2.2,1554)(2.5,1550)(2.8,1548)(3.1,1552)(3.4,1555)(3.7,1560)(4.0,1561)(4.3,1559)(4.6,1557)(4.9,1555)(5.2,1553)(5.5,1551)(5.8,1549)(6.1,1546)(6.3,1555)(6.6,1580)(6.9,1595)(7.3,1602)(7.7,1607)};
\addplot[cO] coordinates {(0,1546)(0.3,1544)(0.45,1556)(0.6,1562)(0.8,1568)(1.0,1565)(1.3,1561)(1.6,1558)(1.9,1555)(2.2,1552)(2.5,1548)(2.8,1552)(3.1,1556)(3.4,1560)(3.7,1558)(4.0,1556)(4.3,1555)(4.6,1553)(4.9,1551)(5.2,1550)(5.5,1548)(5.8,1546)(6.0,1544)};
\addplot[cB] coordinates {(0,1546)(0.3,1543)(0.4,1552)(0.55,1560)(0.7,1565)(0.9,1562)(1.2,1558)(1.5,1555)(1.8,1551)(2.1,1548)(2.4,1545)(2.6,1542)(2.8,1545)(3.0,1550)(3.2,1547)(3.4,1545)(3.6,1548)(3.8,1546)(4.0,1553)(4.3,1558)(4.6,1557)(4.9,1555)(5.2,1553)(5.5,1550)(5.8,1548)};
\addplot[dA] coordinates {(0,1546)(0.3,1543)(0.4,1550)(0.55,1559)(0.7,1563)(0.9,1561)(1.2,1556)(1.5,1553)(1.8,1549)(2.1,1546)(2.4,1542)(2.6,1540)(2.8,1543)(3.0,1547)(3.2,1545)(3.4,1542)(3.6,1546)(3.8,1544)(4.0,1548)(4.3,1546)(4.6,1544)(5.0,1541)(5.3,1538)};
\addplot[lP] coordinates {(0,1546)(0.3,1545)(0.4,1552)(0.55,1561)(0.7,1566)(0.9,1563)(1.2,1559)(1.5,1556)(1.8,1552)(2.1,1549)(2.4,1546)(2.7,1543)(3.0,1548)(3.3,1552)(3.6,1556)(3.8,1558)(4.0,1555)(4.3,1552)(4.6,1550)(4.9,1548)};
\addplot[cP] coordinates {(0,1546)(0.3,1544)(0.4,1551)(0.55,1560)(0.7,1564)(0.9,1561)(1.2,1557)(1.5,1554)(1.8,1550)(2.1,1547)(2.4,1543)(2.6,1538)(2.8,1541)(3.0,1545)(3.2,1543)(3.4,1546)(3.6,1543)(3.8,1541)};
\addplot[cL] coordinates {(0,1546)(0.3,1546)(0.45,1557)(0.6,1565)(0.8,1569)(1.0,1565)(1.3,1562)(1.6,1559)(1.9,1556)(2.2,1553)(2.5,1550)(2.8,1548)(3.1,1551)(3.4,1554)(3.7,1557)(4.0,1558)(4.3,1556)(4.6,1554)(5.0,1552)(5.4,1549)(5.8,1546)(6.1,1543)(6.3,1550)(6.5,1570)(6.7,1590)(7.0,1598)(7.3,1603)(7.7,1607)};
\addplot[bk] coordinates {(0,1546)(0.1,1546)(0.2,1545)(0.3,1544)(0.35,1548)(0.4,1552)(0.5,1558)(0.6,1562)(0.7,1564)(0.8,1563)(0.9,1561)(1.0,1560)(1.1,1559)(1.2,1558)(1.35,1556)(1.5,1555)(1.65,1553)(1.8,1552)(1.9,1550)(2.0,1549)(2.1,1547)(2.2,1546)(2.3,1545)(2.4,1544)(2.5,1543)(2.6,1542)(2.7,1544)(2.8,1545)(2.9,1548)(3.0,1550)(3.1,1548)(3.2,1549)(3.3,1547)(3.4,1546)(3.5,1545)(3.6,1546)(3.7,1547)(3.78,1545)(3.8,1577)(3.9,1576)(4.0,1575)(4.1,1576)(4.2,1576)(4.35,1574)(4.5,1572)(4.65,1571)(4.8,1570)(4.95,1569)(5.1,1570)(5.25,1572)(5.4,1574)(5.55,1577)(5.7,1580)(5.85,1583)(6.0,1584)(6.2,1585)(6.4,1587)(6.6,1588)(6.8,1590)(7.0,1594)(7.2,1597)(7.4,1600)(7.6,1604)(7.7,1607)};
\addplot[rd] coordinates {(0,1546)(0.1,1546)(0.2,1544)(0.3,1543)(0.35,1550)(0.4,1555)(0.45,1558)(0.5,1560)(0.55,1562)(0.6,1563)(0.65,1565)(0.7,1566)(0.75,1564)(0.8,1563)(0.9,1561)(1.0,1557)(1.1,1558)(1.2,1555)(1.3,1556)(1.4,1553)(1.5,1554)(1.6,1552)(1.7,1553)(1.8,1550)(1.9,1551)(2.0,1547)(2.1,1548)(2.2,1545)(2.3,1541)(2.35,1539)(2.4,1537)(2.45,1535)(2.5,1534)(2.6,1537)(2.7,1540)(2.8,1542)(2.9,1543)(3.0,1545)(3.1,1544)(3.2,1546)(3.3,1543)(3.4,1545)(3.5,1546)(3.6,1542)(3.7,1543)(3.8,1541)(3.9,1540)(4.0,1543)(4.1,1548)(4.2,1550)(4.3,1549)(4.34,1549)(4.36,1590)(4.45,1592)(4.55,1600)(4.7,1606)(5.0,1606)(5.5,1606)(6.0,1606)};
\end{axis}
% ---------------- Panel 8: Arabidopsis Diameter
\begin{axis}[panel, at={(340pt,18pt)}, width=213pt, height=104pt,
  xmin=0, xmax=8, ymin=1146, ymax=1154, ytick={1146,1147,...,1154},
  xtick={0,...,8}, xticklabels={1,2,4,8,16,32,64,128,256}]
\addplot[cA] coordinates {(0,1152.1)(0.15,1152.5)(0.25,1151)(0.3,1150)(0.35,1152)(0.45,1153.4)(3,1153.4)(4,1153.3)(5,1153)(5.5,1152.5)(5.8,1153.2)(6.5,1153.4)(7.7,1153.4)};
\addplot[cO] coordinates {(0,1152.1)(0.3,1151.5)(0.4,1150.5)(0.5,1151.8)(0.6,1153.4)(1.0,1153.3)(1.5,1153.4)(2,1153.2)(3,1153.4)(4,1153.2)(5,1152.8)(5.5,1152.3)(5.9,1152.2)(6.2,1152.5)(6.8,1153)(7.7,1153.4)};
\addplot[dA] coordinates {(0,1152.1)(0.3,1151.8)(0.6,1152.5)(0.8,1153.1)(1.0,1152.8)(1.15,1151.5)(1.2,1153.2)(1.5,1153)(2,1153.2)(2.5,1153.4)(3,1153.1)(3.5,1153.3)(4,1153.1)(4.5,1152.6)(5,1152.4)(5.5,1152.8)(5.8,1153.4)(7.7,1153.4)};
\addplot[lO] coordinates {(0,1152.1)(0.3,1151.3)(0.5,1152)(0.7,1151.5)(0.9,1153)(1.2,1152.5)(1.4,1153)(1.7,1152.2)(2.0,1153)(2.3,1152.6)(2.6,1153.1)(3,1152.8)(3.5,1153.2)(4,1153)(4.5,1152.4)(5,1152.1)(5.5,1152.5)(5.8,1152.2)(6.1,1152)(6.5,1152.5)(7,1153)(7.7,1153.4)};
\addplot[cR] coordinates {(0,1152.1)(0.3,1151.5)(0.6,1152.3)(0.9,1151.5)(1.2,1152.5)(1.5,1153)(1.8,1152.4)(2.1,1153.1)(2.4,1152.5)(2.7,1153)(3.0,1152.6)(3.4,1153)(3.8,1152.4)(4.2,1152)(4.6,1151.8)(5.0,1151.5)(5.3,1151.2)(5.5,1152.5)(5.7,1153.3)(6.0,1152.6)(6.5,1152.7)(7,1153.2)(7.7,1153.4)};
\addplot[cP] coordinates {(0,1152.1)(0.3,1151)(0.5,1150.2)(0.7,1149.5)(0.9,1150.5)(1.1,1149.2)(1.3,1150.8)(1.6,1151.2)(1.9,1150.4)(2.2,1151.5)(2.5,1150.5)(2.8,1151)(3.1,1150.2)(3.4,1151)(3.7,1150.4)(4.0,1151.5)(4.3,1151.2)(4.7,1151.6)(5.0,1151.3)(5.3,1151.6)(5.5,1152.3)(5.7,1153.2)(6.0,1152.8)(6.5,1153)(7.7,1153.4)};
\addplot[lP] coordinates {(0,1152.1)(0.2,1151.5)(0.4,1150.8)(0.6,1150)(0.8,1149.2)(0.95,1148.6)(1.1,1149.5)(1.3,1150.2)(1.6,1149.8)(1.9,1150.6)(2.2,1150.2)(2.5,1151)(2.8,1150.5)(3.1,1151.2)(3.4,1150.6)(3.7,1151.4)(4.0,1151.8)(4.4,1152.4)(4.8,1152)(5.2,1152.5)(5.6,1153)(6,1153.2)(7.7,1153.4)};
\addplot[lB] coordinates {(0,1152.1)(0.3,1150.8)(0.5,1149.6)(0.7,1150.6)(0.9,1149.8)(1.1,1151)(1.4,1150.2)(1.7,1151.3)(2.0,1150.6)(2.3,1151.5)(2.6,1150.8)(2.9,1150.2)(3.2,1149)(3.5,1148.2)(3.6,1148.6)(3.8,1150)(4.0,1151.2)(4.3,1151.8)(4.6,1152.3)(5,1152.6)(5.5,1152.9)(6,1153.2)(7.7,1153.4)};
\addplot[cB] coordinates {(0,1152.1)(0.3,1151.2)(0.6,1150.5)(0.9,1151.3)(1.2,1150.5)(1.5,1151.2)(1.8,1150.2)(2.1,1150.8)(2.4,1150)(2.6,1149.2)(2.8,1148.2)(2.9,1148.1)(3.0,1149)(3.2,1150.2)(3.5,1150.6)(3.8,1150.2)(4.0,1151)(4.3,1151.5)(4.7,1152)(5,1152.4)(5.5,1152.6)(6,1153)(7.7,1153.4)};
\addplot[cO] coordinates {(0,1152.1)(0.3,1151.6)(0.6,1150.8)(0.9,1151.5)(1.2,1150.5)(1.5,1151.2)(1.8,1150.7)(2.1,1151.5)(2.4,1150.9)(2.7,1151.3)(3.0,1150.5)(3.3,1150.9)(3.55,1150.2)(3.7,1148.5)(3.75,1147.4)(3.8,1148.5)(3.9,1150.5)(4.1,1151.3)(4.4,1151.8)(4.8,1152.2)(5.2,1152.5)(5.6,1152.9)(6,1153.1)(7.7,1153.4)};
\addplot[lA] coordinates {(0,1152.1)(0.2,1151)(0.3,1149.5)(0.4,1150.8)(0.6,1151.8)(0.8,1150.8)(1.0,1151.5)(1.3,1150.6)(1.6,1151.4)(1.9,1150.8)(2.2,1151.6)(2.5,1151)(2.8,1151.8)(3.1,1151.3)(3.4,1152)(3.7,1151.5)(4.0,1152.2)(4.4,1152.6)(4.8,1152.3)(5.2,1152.7)(5.6,1153.1)(6,1153.3)(7.7,1153.4)};
\addplot[cA] coordinates {(0,1152.1)(0.3,1152.4)(0.5,1151.6)(0.7,1152.8)(0.9,1153.2)(1.0,1152.2)(1.05,1149)(1.1,1150.5)(1.2,1151.8)(1.5,1152.4)(1.8,1151.5)(2.1,1152.3)(2.4,1151.7)(2.7,1152.5)(3.0,1152.1)(3.3,1152.8)(3.6,1152.3)(4,1152.9)(4.5,1153.1)(5,1153)(5.5,1153.2)(7.7,1153.4)};
\addplot[lG] coordinates {(0,1152.1)(0.3,1151.8)(0.5,1151)(0.7,1150.2)(0.9,1149)(1.0,1148.5)(1.1,1149.5)(1.4,1151)(1.7,1150.4)(2.0,1151)(2.3,1150)(2.6,1150.8)(2.9,1149.5)(3.2,1150.2)(3.5,1151)(3.8,1150.6)(4.1,1151.3)(4.4,1150.8)(4.7,1150.2)(5.0,1149.5)(5.3,1148.5)(5.5,1148)(5.7,1148.2)(5.85,1147.8)(6.0,1148.5)(6.1,1151.5)(6.3,1152.5)(6.8,1153.2)(7.7,1153.4)};
\addplot[cG] coordinates {(0,1152.1)(0.3,1151.5)(0.5,1150)(0.7,1151)(0.9,1149.5)(1.0,1148)(1.1,1150)(1.3,1151.5)(1.6,1151)(1.9,1150.5)(2.2,1151.2)(2.5,1150.3)(2.8,1150.8)(3.1,1150)(3.4,1150.5)(3.7,1149.8)(4.0,1150.5)(4.2,1150)(4.5,1149.3)(4.8,1148.5)(5.0,1148)(5.2,1147.6)(5.35,1148.3)(5.5,1147.8)(5.65,1147.2)(5.8,1147.5)(6.0,1148)(6.05,1151)(6.2,1152.3)(6.6,1153)(7.7,1153.4)};
\addplot[bk] coordinates {(0,1152.1)(0.1,1152.0)(0.2,1152.1)(0.3,1151.8)(0.4,1151.5)(0.5,1151.6)(0.6,1151.0)(0.7,1151.3)(0.8,1150.6)(0.9,1150.9)(1.0,1150.1)(1.05,1149.8)(1.1,1150.3)(1.15,1148.4)(1.2,1148.9)(1.3,1149.8)(1.4,1150.6)(1.5,1150.4)(1.6,1151.1)(1.7,1150.6)(1.8,1151.3)(1.9,1150.9)(2.0,1150.5)(2.1,1151.2)(2.2,1151.0)(2.3,1150.4)(2.4,1150.8)(2.5,1151.4)(2.6,1151.0)(2.7,1150.6)(2.8,1150.9)(2.9,1150.3)(3.0,1150.6)(3.1,1150.2)(3.2,1150.8)(3.35,1150.5)(3.5,1150.7)(3.65,1150.2)(3.8,1150.0)(3.9,1150.6)(4.0,1151.9)(4.15,1152.3)(4.3,1151.7)(4.45,1152.0)(4.6,1151.6)(4.75,1152.1)(4.9,1152.4)(5.05,1152.0)(5.2,1151.8)(5.35,1152.2)(5.5,1152.6)(5.65,1153.2)(5.8,1153.4)(6.0,1153.1)(6.2,1152.7)(6.5,1152.8)(6.9,1153.0)(7.3,1153.3)(7.7,1153.4)};
\addplot[rd] coordinates {(0,1152.1)(0.1,1152.2)(0.2,1152.4)(0.3,1152.0)(0.4,1152.5)(0.45,1152.2)(0.5,1152.6)(0.55,1152.8)(0.6,1152.5)(0.65,1152.2)(0.7,1151.8)(0.8,1151.5)(0.9,1151.0)(1.0,1151.5)(1.1,1150.6)(1.2,1151.0)(1.3,1150.2)(1.35,1151.4)(1.45,1152.4)(1.55,1152.2)(1.65,1151.6)(1.75,1151.3)(1.85,1151.9)(1.95,1151.2)(2.05,1150.6)(2.15,1150.9)(2.25,1150.3)(2.35,1150.7)(2.45,1149.9)(2.55,1149.4)(2.65,1150.0)(2.75,1150.6)(2.85,1150.9)(2.95,1150.4)(3.05,1150.7)(3.2,1150.3)(3.35,1150.5)(3.5,1150.1)(3.6,1150.4)(3.7,1149.6)(3.8,1149.1)(3.9,1149.8)(4.0,1151.3)(4.1,1151.6)(4.2,1151.2)(4.35,1150.6)(4.5,1150.0)(4.65,1149.6)(4.8,1149.2)(4.95,1148.9)(5.1,1148.6)(5.25,1148.3)(5.4,1148.0)(5.55,1147.7)(5.7,1147.4)(5.85,1147.1)(6.0,1147.2)(6.1,1148.5)(6.2,1150.5)(6.3,1152.3)(6.5,1152.9)(6.8,1153.1)(7.2,1153.3)(7.7,1153.4)};
\end{axis}
% ---------------- Titles and row labels
\begin{scope}[every node/.style={font=\fontsize{22}{24}\selectfont, inner sep=0pt}]
\node[anchor=base east] at (281pt,444pt) {Body mass index};
\node[anchor=base east] at (557pt,446pt) {Height};
\node[anchor=base east] at (280pt,310pt) {OFA score};
\node[anchor=base east] at (557pt,314pt) {Norberg angle};
\node[anchor=base east] at (282pt,172pt) {Flowering time};
\node[anchor=base east] at (558pt,171pt) {Ear diameter};
\node[anchor=base east] at (283pt,24pt) {Flowering time};
\node[anchor=base east] at (558pt,27pt) {Diameter};
\end{scope}
\begin{scope}[every node/.style={font=\fontsize{20}{24}\selectfont, inner sep=0pt, rotate=90}]
\node at (12pt,494pt) {Human};
\node at (12pt,369pt) {Dog};
\node at (12pt,209pt) {Maize};
\node at (12pt,68pt) {Arabidopsis};
\end{scope}
\end{tikzpicture}
\end{document}
